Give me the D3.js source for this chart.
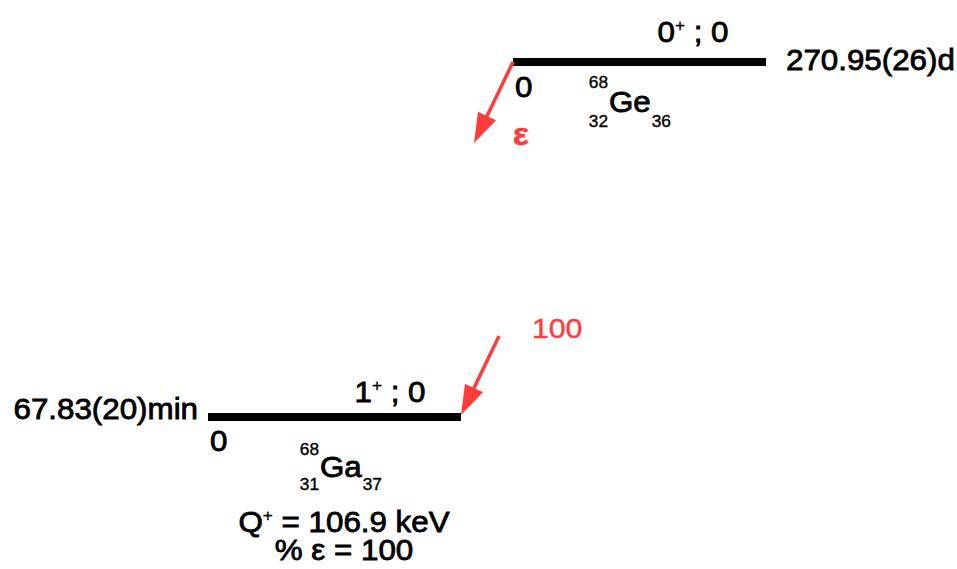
<!DOCTYPE html>
<html>
<head>
<meta charset="utf-8">
<script src="https://cdn.jsdelivr.net/npm/d3@7"></script>
<style>
  html, body { margin: 0; padding: 0; background: #fff; }
  svg { display: block; font-family: "Liberation Sans", Arial, sans-serif; }
</style>
</head>
<body>
<svg id="chart" width="957" height="569"></svg>
<script>
// ---- data ----
const nuclides = ["Ge", "Ga"];
const massNumbers = [68, 68];
const atomicNumbers = [32, 31];
const neutronNumbers = [36, 37];
const levelEnergies = ["0", "0"];
const spinValues = ["0", "1"];
const parities = ["+", "+"];
const isospinLabels = ["0", "0"];
const halfLives = ["270.95(26)d", "67.83(20)min"];
const decayMode = "ε";
const branchIntensities = [100];
const qValueKeV = 106.9;
const percentEC = 100;

// ---- layout ----
const SX = 1.08;          // horizontal text stretch seen in the reference
const RED = "#ff3b3b";
const levelWidth = 253;

const svg = d3.select("#chart");
const x = d3.scaleLinear().domain([31, 32]).range([208, 513]);
const y = d3.scalePoint().domain(nuclides).range([62, 417]);

function label(x0, y0, anchor, parts, size, fill, sw, weight) {
  const col = fill || "#000";
  const t = svg.append("text")
    .attr("transform", `translate(${x0},${y0}) scale(${SX},1)`)
    .attr("text-anchor", anchor)
    .attr("font-size", size || 29)
    .attr("fill", col)
    .attr("stroke", col)
    .attr("stroke-width", sw === undefined ? 0.8 : sw)
    .attr("font-weight", weight || "normal");
  let raised = false;
  parts.forEach(p => {
    if (typeof p === "string") {
      const s = t.append("tspan").text(p);
      if (raised) { s.attr("dy", 11); raised = false; }
    } else {
      t.append("tspan").text(p.sup).attr("font-size", 16).attr("stroke-width", 0.3).attr("dy", -11);
      raised = true;
    }
  });
  return t;
}

// per-row label placement (relative to level start / level y)
const rowLayout = {
  Ge: { spinDx: 180, spinDy: -20, hlSide: "right", hlDy: 8, zeroDx: 2, zeroDy: 35, nucDx: 96, nucDy: 50, supDy: -24, subDy: 15 },
  Ga: { spinDx: 182, spinDy: -15, hlSide: "left", hlDy: 2, zeroDx: 2, zeroDy: 34, nucDx: 112, nucDy: 60, supDy: -22, subDy: 13 }
};

nuclides.forEach((n, i) => {
  const x0 = x(atomicNumbers[i]);
  const x1 = x0 + levelWidth;
  const yy = y(n);
  const L = rowLayout[n];

  // level bar
  svg.append("line")
    .attr("x1", x0).attr("x2", x1).attr("y1", yy).attr("y2", yy)
    .attr("stroke", "#000").attr("stroke-width", 8);

  // spin/parity
  label(x0 + L.spinDx, yy + L.spinDy, "middle", [spinValues[i], { sup: parities[i] }, " ; " + isospinLabels[i]]);

  // half-life
  if (L.hlSide === "right") label(x1 + 20, yy + L.hlDy, "start", [halfLives[i]]);
  else label(x0 - 10, yy + L.hlDy, "end", [halfLives[i]]);

  // energy
  label(x0 + L.zeroDx, yy + L.zeroDy, "start", [levelEnergies[i]]);

  // nuclide symbol
  const gx = x0 + L.nucDx, gy = yy + L.nucDy;
  const sym = label(gx, gy, "start", [n]);
  const symW = sym.node().getComputedTextLength() * SX;
  label(gx - 1, gy + L.supDy, "end", [String(massNumbers[i])], 16, "#000", 0.35);
  label(gx - 1, gy + L.subDy, "end", [String(atomicNumbers[i])], 16, "#000", 0.35);
  label(gx + symW + 1, gy + L.subDy, "start", [String(neutronNumbers[i])], 16, "#000", 0.35);
});

// arrows
function arrow(sx, sy, tx, ty) {
  const dx = tx - sx, dy = ty - sy, len = Math.hypot(dx, dy);
  const ux = dx / len, uy = dy / len, nx = -uy, ny = ux;
  const hl = 30, hw = 10;
  const bx = tx - ux * hl, by = ty - uy * hl;
  svg.append("line").attr("x1", sx).attr("y1", sy).attr("x2", bx + ux * 2).attr("y2", by + uy * 2)
    .attr("stroke", RED).attr("stroke-width", 3.5);
  svg.append("polygon")
    .attr("points", [[tx, ty], [bx + nx * hw, by + ny * hw], [bx - nx * hw, by - ny * hw]].map(p => p.join(",")).join(" "))
    .attr("fill", RED);
}

const px = x(atomicNumbers[0]), py = y(nuclides[0]);
arrow(px, py, px - 39, py + 81);
label(px + 8, py + 83, "middle", [decayMode], 31, RED, 0.6, "bold");

const dxr = x(atomicNumbers[1]) + levelWidth, dyr = y(nuclides[1]);
arrow(dxr + 38, dyr - 81, dxr, dyr - 2);
label(dxr + 71, dyr - 79, "start", [String(branchIntensities[0])], 28, RED, 0.4);

// Q-value and branching
const qx = x(atomicNumbers[1]) + 136;
label(qx, 532, "middle", ["Q", { sup: "+" }, " = " + qValueKeV + " keV"]);
label(qx, 560, "middle", ["% " + decayMode + " = " + percentEC]);
</script>
</body>
</html>
